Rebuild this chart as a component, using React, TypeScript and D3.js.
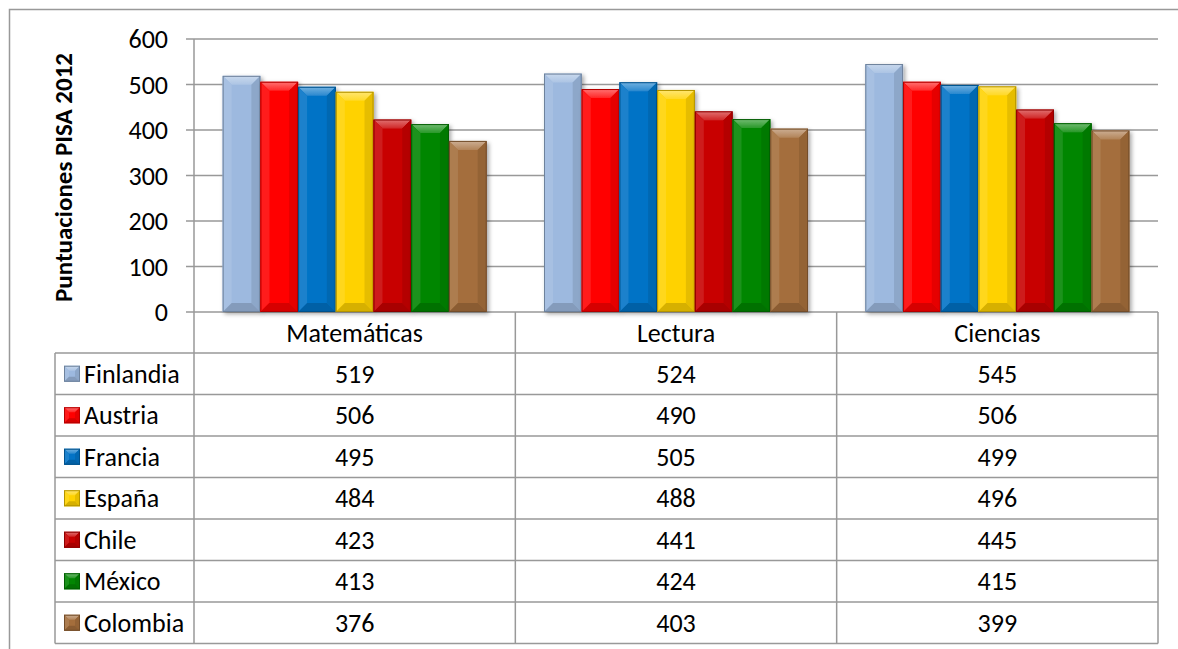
import React from "react";
import * as d3 from "d3";

const categories = ["Matemáticas", "Lectura", "Ciencias"];
const countries = ["Finlandia", "Austria", "Francia", "España", "Chile", "México", "Colombia"];
const colors = ["#9DB9DF", "#FF0000", "#0373C6", "#FFD200", "#C80000", "#028602", "#A46E3C"];
const finlandia = [519, 524, 545];
const austria = [506, 490, 506];
const francia = [495, 505, 499];
const espana = [484, 488, 496];
const chile = [423, 441, 445];
const mexico = [413, 424, 415];
const colombia = [376, 403, 399];
const seriesValues = [finlandia, austria, francia, espana, chile, mexico, colombia];
const yTicks = [0, 100, 200, 300, 400, 500, 600];
const yTitle = "Puntuaciones PISA 2012";

const FONT = "Carlito, Lato, 'Open Sans', sans-serif";
const FS = 26;

function Bevel({ x, y, w, h, color, b = 9, id }: { x: number; y: number; w: number; h: number; color: string; b?: number; id: string }) {
  const light = d3.interpolateRgb(color, "#ffffff")(0.45);
  const lightSide = d3.interpolateRgb(color, "#ffffff")(0.1);
  const darkSide = d3.interpolateRgb(color, "#000000")(0.1);
  const dark = d3.interpolateRgb(color, "#000000")(0.16);
  const edge = d3.interpolateRgb(color, "#000000")(0.3);
  const bb = Math.min(b, h / 2);
  const pts = (a: number[][]) => a.map((p) => p.join(",")).join(" ");
  return (
    <g>
      <defs>
        <linearGradient id={id} x1="0" y1="0" x2="0" y2="1">
          <stop offset="0" stopColor={light} />
          <stop offset="1" stopColor={d3.interpolateRgb(color, "#ffffff")(0.15)} />
        </linearGradient>
      </defs>
      <rect x={x} y={y} width={w} height={h} fill={color} />
      <polygon points={pts([[x, y], [x + w, y], [x + w - bb, y + bb], [x + bb, y + bb]])} fill={`url(#${id})`} />
      <polygon points={pts([[x, y], [x + bb, y + bb], [x + bb, y + h - bb], [x, y + h]])} fill={lightSide} />
      <polygon points={pts([[x + w, y], [x + w - bb, y + bb], [x + w - bb, y + h - bb], [x + w, y + h]])} fill={darkSide} />
      <polygon points={pts([[x, y + h], [x + bb, y + h - bb], [x + w - bb, y + h - bb], [x + w, y + h]])} fill={dark} />
      <rect x={x + 0.5} y={y + 0.5} width={w - 1} height={h - 1} fill="none" stroke={edge} strokeWidth={1} />
    </g>
  );
}

export default function App() {
  const W = 1178, H = 649;
  const plotLeft = 194, plotRight = 1158;
  const y0 = 312, yTop = 39;
  const tableLeft = 55;
  const headerBottom = 353;
  const rowH = 41.5;

  const y = d3.scaleLinear().domain([0, 600]).range([y0, yTop]);
  const xGroup = d3.scaleBand<string>().domain(categories).range([plotLeft, plotRight]).paddingInner(0).paddingOuter(0);
  const xBar = d3.scaleBand<string>().domain(countries).range([0, xGroup.bandwidth()]).paddingOuter(0.76).paddingInner(0);

  const grid = "#999999";
  const tableBottom = headerBottom + rowH * countries.length;

  return (
    <svg width={W} height={H} style={{ position: "absolute", left: 0, top: 0, background: "#fff" }} fontFamily={FONT}>
      <defs>
        <filter id="sh" x="-20%" y="-20%" width="140%" height="140%">
          <feDropShadow dx="2" dy="2" stdDeviation="2" floodColor="#000" floodOpacity="0.35" />
        </filter>
      </defs>
      <rect x={9.5} y={9.5} width={1178} height={700} fill="#fff" stroke="#999" strokeWidth={1.5} />

      {yTicks.map((t) => (
        <g key={t}>
          <line x1={plotLeft - 8} x2={plotRight} y1={y(t)} y2={y(t)} stroke={grid} strokeWidth={1.5} />
          <text x={168} y={y(t)} dy="0.35em" textAnchor="end" fontSize={FS} fill="#000">{t}</text>
        </g>
      ))}

      <text transform={`translate(72,${(y0 + yTop) / 2 + 2}) rotate(-90)`} textAnchor="middle" fontSize={25} fontWeight="bold" fill="#000">{yTitle}</text>

      {categories.map((c, ci) => (
        <g key={c} transform={`translate(${xGroup(c)},0)`}>
          {countries.map((k, si) => {
            const v = seriesValues[si][ci];
            const bx = xBar(k)!;
            const by = y(v);
            return (
              <g key={k} filter="url(#sh)">
                <Bevel id={`g${ci}_${si}`} x={bx} y={by} w={xBar.bandwidth()} h={y0 - by} color={colors[si]} />
              </g>
            );
          })}
        </g>
      ))}

      <line x1={plotLeft} x2={plotLeft} y1={yTop} y2={tableBottom} stroke={grid} strokeWidth={1.5} />
      {categories.map((c) => (
        <g key={c}>
          <line x1={xGroup(c)! + xGroup.bandwidth()} x2={xGroup(c)! + xGroup.bandwidth()} y1={y0} y2={tableBottom} stroke={grid} strokeWidth={1.5} />
          <text x={xGroup(c)! + xGroup.bandwidth() / 2} y={(y0 + headerBottom) / 2} dy="0.35em" textAnchor="middle" fontSize={FS} fill="#000">{c}</text>
        </g>
      ))}
      <line x1={tableLeft} x2={tableLeft} y1={headerBottom} y2={tableBottom} stroke={grid} strokeWidth={1.5} />
      {d3.range(countries.length + 1).map((i) => (
        <line key={i} x1={tableLeft} x2={plotRight} y1={headerBottom + i * rowH} y2={headerBottom + i * rowH} stroke={grid} strokeWidth={1.5} />
      ))}
      {countries.map((k, si) => {
        const cy = headerBottom + si * rowH + rowH / 2;
        return (
          <g key={k}>
            <Bevel id={`l${si}`} x={64} y={cy - 8} w={16} h={16} color={colors[si]} b={5} />
            <text x={84} y={cy} dy="0.35em" fontSize={FS} fill="#000">{k}</text>
            {categories.map((c, ci) => (
              <text key={c} x={xGroup(c)! + xGroup.bandwidth() / 2} y={cy} dy="0.35em" textAnchor="middle" fontSize={FS} fill="#000">{seriesValues[si][ci]}</text>
            ))}
          </g>
        );
      })}
    </svg>
  );
}
